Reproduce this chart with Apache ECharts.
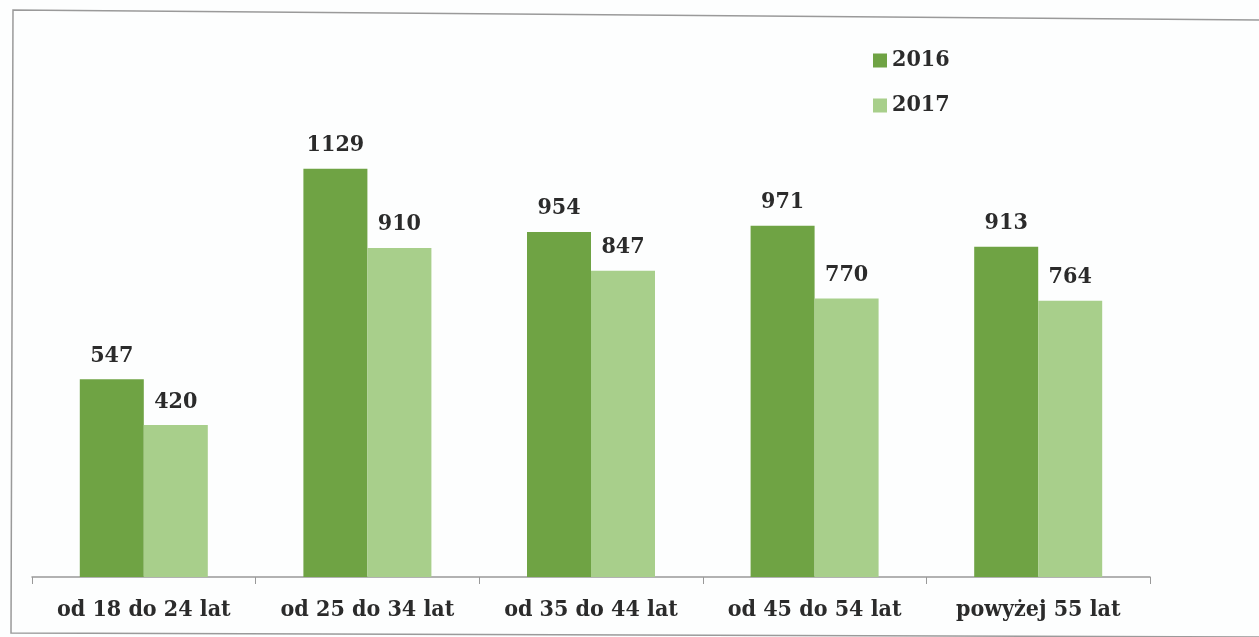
<!DOCTYPE html>
<html>
<head>
<meta charset="utf-8">
<script src="https://cdn.jsdelivr.net/npm/echarts@6/dist/echarts.min.js"></script>
<style>
  html, body { margin: 0; padding: 0; background: #fdfefe; }
  #chart { width: 1259px; height: 637px; }
</style>
</head>
<body>
<div id="chart"></div>
<script>
// grupy wiekowe
const categories = ['od 18 do 24 lat', 'od 25 do 34 lat', 'od 35 do 44 lat', 'od 45 do 54 lat', 'powyżej 55 lat']
const values2016 = [547, 1129, 954, 971, 913]
const values2017 = [420, 910, 847, 770, 764]

const font = '"DejaVu Serif Condensed", "DejaVu Serif", serif'
const textColor = '#2b2b2b'

const chart = echarts.init(document.getElementById('chart'))

const labelStyle = {
    show: true,
    position: 'top',
    distance: 12,
    fontFamily: font,
    fontWeight: 'bold',
    fontSize: 23,
    color: textColor
}

chart.setOption({
    backgroundColor: '#fdfefe',
    animation: false,
    legend: {
        orient: 'vertical',
        left: 868,
        top: 44,
        icon: 'rect',
        itemWidth: 14,
        itemHeight: 14,
        itemGap: 22,
        textStyle: { fontFamily: font, fontWeight: 'bold', fontSize: 23, color: textColor },
        data: ['2016', '2017']
    },
    grid: { left: 32, right: 109, top: 143, bottom: 60 },
    xAxis: {
        type: 'category',
        data: categories,
        axisLine: { lineStyle: { color: '#999', width: 1.5 } },
        axisTick: { show: true, interval: 0, length: 7, lineStyle: { color: '#999' } },
        axisLabel: { interval: 0, margin: 22, fontFamily: font, fontWeight: 'bold', fontSize: 23, color: textColor }
    },
    yAxis: {
        type: 'value',
        min: 0,
        max: 1200,
        show: false,
        splitLine: { show: false }
    },
    series: [
        {
            name: '2016',
            type: 'bar',
            data: values2016,
            barWidth: 64,
            barGap: '0%',
            itemStyle: { color: '#6fa344' },
            label: labelStyle
        },
        {
            name: '2017',
            type: 'bar',
            data: values2017,
            barWidth: 64,
            itemStyle: { color: '#a8cf8b' },
            label: labelStyle
        }
    ],
    graphic: [
        {
            type: 'polyline',
            shape: { points: [[1259, 20], [13, 10], [11, 633], [1259, 637]] },
            style: { stroke: '#9a9a9a', lineWidth: 1.5, fill: null },
            silent: true
        }
    ]
})
</script>
</body>
</html>
